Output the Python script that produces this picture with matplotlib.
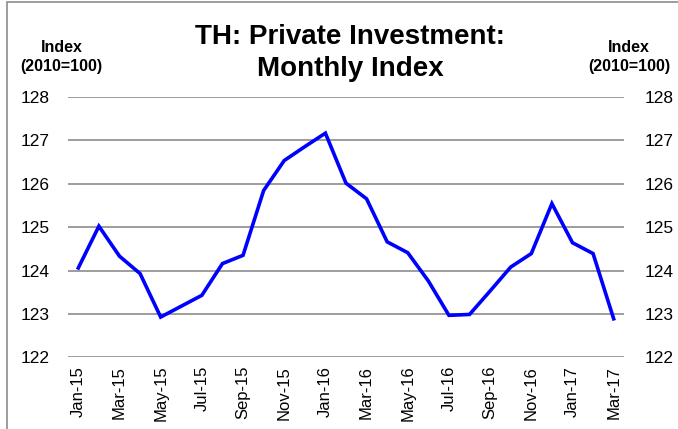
import matplotlib.pyplot as plt
from matplotlib.patches import Rectangle

# monthly index, Jan-15 .. Mar-17
months = ["Jan-15", "Feb-15", "Mar-15", "Apr-15", "May-15", "Jun-15", "Jul-15",
          "Aug-15", "Sep-15", "Oct-15", "Nov-15", "Dec-15", "Jan-16", "Feb-16",
          "Mar-16", "Apr-16", "May-16", "Jun-16", "Jul-16", "Aug-16", "Sep-16",
          "Oct-16", "Nov-16", "Dec-16", "Jan-17", "Feb-17", "Mar-17"]
index_vals = [124.06, 125.02, 124.33, 123.93, 122.93, 123.18, 123.43,
              124.16, 124.35, 125.84, 126.53, 126.85, 127.16, 126.01,
              125.65, 124.66, 124.41, 123.76, 122.97, 122.99, 123.53,
              124.08, 124.39, 125.54, 124.64, 124.39, 122.89]
y_ticks = [122, 123, 124, 125, 126, 127, 128]

plt.rcParams['font.family'] = ['Liberation Sans', 'DejaVu Sans']

fig = plt.figure(figsize=(6.78, 4.29), dpi=100)
ax = fig.add_axes([0.1003, 0.1667, 0.820, 0.608])

x = list(range(len(months)))
ax.plot(x, index_vals, color='#0000ff', linewidth=2.6, solid_joinstyle='miter', zorder=3)

ax.set_xlim(-0.5, len(months) - 0.5)
ax.set_ylim(122, 128)
ax.set_yticks(y_ticks)
ax.set_xticks(x[::2])
ax.set_xticklabels(months[::2], rotation=90, fontsize=12)
ax.tick_params(axis='x', length=0, pad=6)
ax.tick_params(axis='y', length=0, pad=13, labelsize=12.5)
ax.grid(axis='y', color='#8c8c8c', linewidth=1.2)
ax.set_axisbelow(True)
for s in ax.spines.values():
    s.set_visible(False)

ax2 = ax.twinx()
ax2.set_ylim(122, 128)
ax2.set_yticks(y_ticks)
ax2.tick_params(axis='y', length=0, pad=15, labelsize=12.5)
for s in ax2.spines.values():
    s.set_visible(False)

fig.text(0.516, 0.877, "TH: Private Investment:\nMonthly Index", ha='center', va='center',
         fontsize=20, fontweight='bold', linespacing=1.3)
fig.text(0.091, 0.867, "Index\n(2010=100)", ha='center', va='center',
         fontsize=11.5, fontweight='bold', linespacing=1.35)
fig.text(0.928, 0.867, "Index\n(2010=100)", ha='center', va='center',
         fontsize=11.5, fontweight='bold', linespacing=1.35)

# outer chart frame (left and top edges)
fig.patches.append(Rectangle((7 / 678, -0.1), 1.2, 1.1 - 2 / 429, transform=fig.transFigure,
                             fill=False, edgecolor='#8c8c8c', linewidth=1.2))

fig.savefig("out.png", dpi=100)
